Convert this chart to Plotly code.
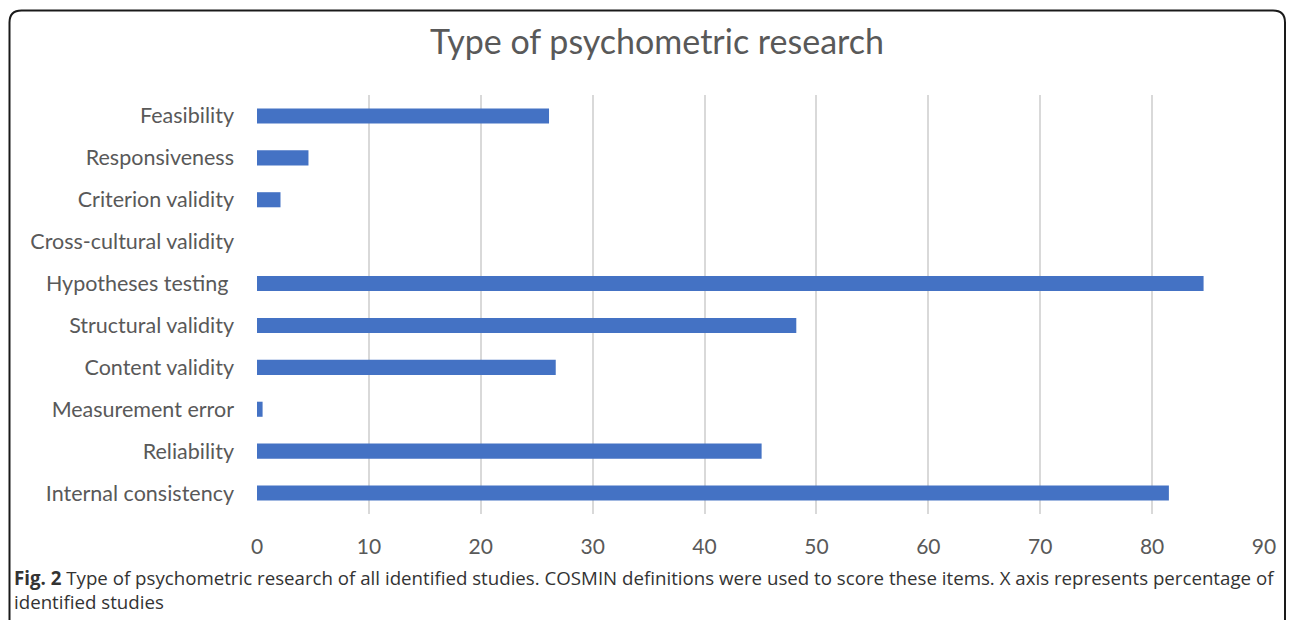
import plotly.graph_objects as go

categories = ["Internal consistency", "Reliability", "Measurement error", "Content validity",
              "Structural validity", "Hypotheses testing\u00a0", "Cross-cultural validity",
              "Criterion validity", "Responsiveness", "Feasibility"]
values = [81.5, 45.1, 0.5, 26.7, 48.2, 84.6, 0, 2.1, 4.6, 26.1]
x_ticks = [0, 10, 20, 30, 40, 50, 60, 70, 80, 90]

OFF = 8  # page body margin
W, H = 1295 - OFF, 620 - OFF
L, T = 257 - OFF, 95 - OFF
PW, PH = 1007, 419
R = W - L - PW
B = H - T - PH

def px(x):
    return (x - OFF - L) / PW

def py(y):
    return 1 - (y - OFF - T) / PH

fig = go.Figure(go.Bar(
    x=values, y=categories, orientation="h",
    marker=dict(color="#4472C4", line=dict(width=0)),
    width=0.36,
))

# rounded border
l, r, t, b, rad = 9.5, 1285, 10.5, 660, 12
path = (f"M {px(l)} {py(b)} L {px(l)} {py(t+rad)} Q {px(l)} {py(t)} {px(l+rad)} {py(t)} "
        f"L {px(r-rad)} {py(t)} Q {px(r)} {py(t)} {px(r)} {py(t+rad)} L {px(r)} {py(b)}")
fig.add_shape(type="path", path=path, xref="paper", yref="paper",
              line=dict(color="#1a1a1a", width=2))

fig.add_annotation(
    text="<b>Fig. 2</b> Type of psychometric research of all identified studies. COSMIN definitions were used to score these items. X axis represents percentage of<br>identified studies",
    xref="paper", yref="paper", x=px(12), y=py(563), xanchor="left", yanchor="top",
    align="left", showarrow=False,
    font=dict(family="Open Sans", size=18.7, color="#333333"),
)

fig.update_layout(
    width=W, height=H,
    margin=dict(l=L, r=R, t=T, b=B, autoexpand=False),
    paper_bgcolor="white", plot_bgcolor="white",
    showlegend=False,
    title=dict(text="Type of psychometric research", x=(657 - OFF) / W, xanchor="center",
               y=1 - (42 - OFF) / H, yanchor="middle", yref="container",
               font=dict(family="Lato", size=34, color="#595959")),
    xaxis=dict(range=[0, 90], tickvals=x_ticks, showgrid=True, gridcolor="#d9d9d9",
               gridwidth=2, zeroline=False, showline=False, ticks="",
               ticklabelstandoff=18,
               tickfont=dict(family="Lato", size=21, color="#595959")),
    yaxis=dict(showgrid=False, zeroline=False, showline=False, ticks="",
               ticklabelstandoff=22, range=[-0.5, 9.5],
               tickfont=dict(family="Lato", size=21.5, color="#595959")),
    bargap=0.64,
)

fig.write_html("out.html")
